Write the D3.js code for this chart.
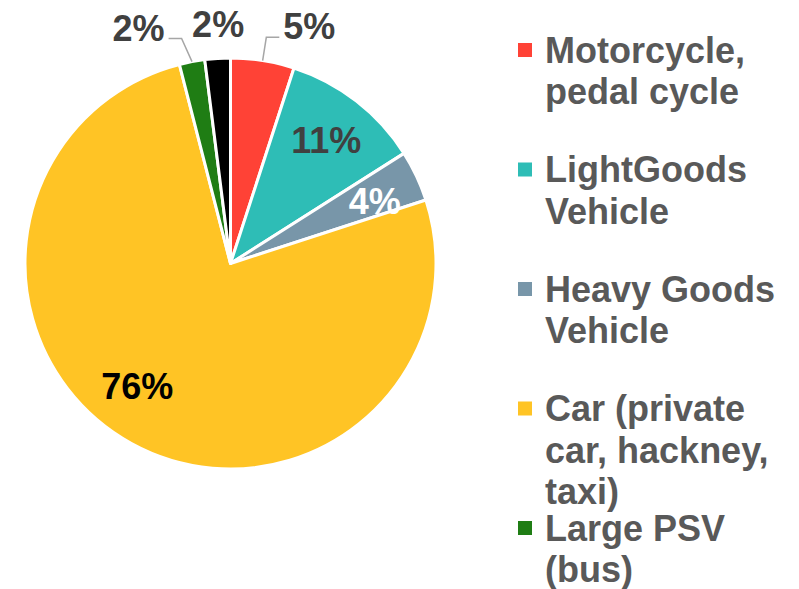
<!DOCTYPE html>
<html>
<head>
<meta charset="utf-8">
<script src="https://cdn.jsdelivr.net/npm/d3@7"></script>
<style>
  body { margin: 0; background: #fff; }
  svg text { font-family: "Liberation Sans", Arial, sans-serif; font-weight: bold; }
</style>
</head>
<body>
<div id="chart"></div>
<script>
// vehicle share, clockwise from 12 o'clock
var categories = ['Motorcycle, pedal cycle', 'LightGoods Vehicle', 'Heavy Goods Vehicle',
    'Car (private car, hackney, taxi)', 'Large PSV (bus)', 'Other']
var values = [5, 11, 4, 76, 2, 2]
var colors = ['#ff4236', '#2ebdb6', '#7896a9', '#ffc425', '#1f7d14', '#000000']
var labelColors = ['#404040', '#404040', '#ffffff', '#000000', '#404040', '#404040']
// legend shows only the first five (the last one is cut off)
var legendLines = [
    ['Motorcycle,', 'pedal cycle'],
    ['LightGoods', 'Vehicle'],
    ['Heavy Goods', 'Vehicle'],
    ['Car (private', 'car, hackney,', 'taxi)'],
    ['Large PSV', '(bus)']
]

var width = 799, height = 589
var cx = 230.5, cy = 263.5, R = 205.5

var svg = d3.select('#chart').append('svg').attr('width', width).attr('height', height)

var pie = d3.pie().sort(null).value(function(d) { return d })
var arcs = pie(values)
var arc = d3.arc().innerRadius(0).outerRadius(R)
var labelArc = d3.arc().innerRadius(R * 0.76).outerRadius(R * 0.76)

var g = svg.append('g').attr('transform', 'translate(' + cx + ',' + cy + ')')

g.selectAll('path.slice')
    .data(arcs)
    .enter().append('path')
    .attr('class', 'slice')
    .attr('d', arc)
    .style('fill', function(d, i) { return colors[i] })
    .style('stroke', '#fff')
    .style('stroke-width', 3)
    .style('stroke-linejoin', 'round')

function mid(d) { return (d.startAngle + d.endAngle) / 2 }
function pct(d) { return d.data + '%' }

// slices near 12 o'clock get their labels outside, with elbow leaders
var outsideIdx = [0, 4, 5]
// best-fit nudge for the big slice label (like the original)
var nudge = { 2: [3, 4], 3: [-18, -14] }

arcs.forEach(function(d, i) {
    var a = mid(d)
    if (outsideIdx.indexOf(i) < 0) {
        var c = labelArc.centroid(d)
        var n = nudge[i] || [0, 0]
        g.append('text')
            .attr('x', c[0] + n[0])
            .attr('y', c[1] + n[1])
            .attr('dy', '0.35em')
            .attr('text-anchor', 'middle')
            .style('font-size', '36px')
            .style('fill', labelColors[i])
            .text(pct(d))
        return
    }
    var p0 = [R * Math.sin(a), -R * Math.cos(a)]
    var pe = [229 * Math.sin(a), -229 * Math.cos(a)]
    var side = i === values.length - 1 ? 0 : (Math.sin(a) > 0 ? 1 : -1)
    if (side < 0) pe[0] -= 6
    if (side !== 0) {
        var pend = [pe[0] + side * 13, pe[1]]
        g.append('polyline')
            .attr('points', [p0, pe, pend].map(function(p) { return p.join(',') }).join(' '))
            .style('fill', 'none')
            .style('stroke', '#a6a6a6')
            .style('stroke-width', 1.5)
    }
    g.append('text')
        .attr('x', side === 0 ? pe[0] + 2 : pe[0] + side * 17)
        .attr('y', pe[1] + 2)
        .attr('text-anchor', side === 0 ? 'middle' : (side > 0 ? 'start' : 'end'))
        .style('font-size', '36px')
        .style('fill', labelColors[i])
        .text(pct(d))
})

// legend
var legend = svg.append('g')
legendLines.forEach(function(lines, i) {
    var yc = 50 + 119.5 * i
    legend.append('rect')
        .attr('x', 518).attr('y', yc - 7)
        .attr('width', 14).attr('height', 14)
        .style('fill', colors[i])
    var t = legend.append('text')
        .attr('x', 545).attr('y', yc + 12.7)
        .style('font-size', '36px')
        .style('fill', '#595959')
    lines.forEach(function(l, j) {
        t.append('tspan').attr('x', 545).attr('dy', j === 0 ? 0 : 41.3).text(l)
    })
})
</script>
</body>
</html>
